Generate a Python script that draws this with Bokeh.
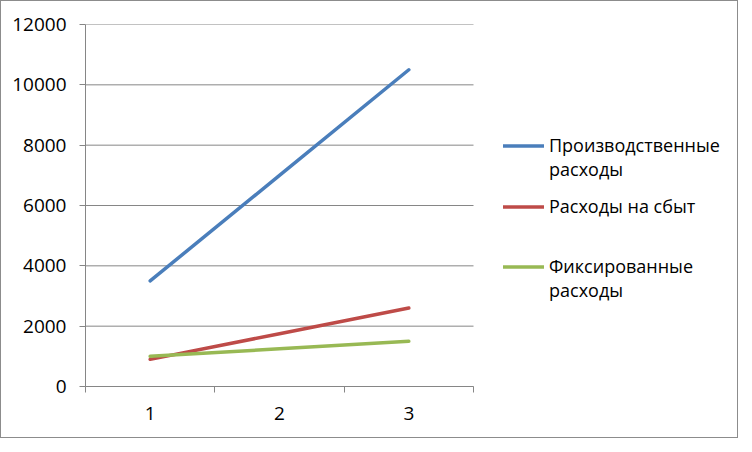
from bokeh.plotting import figure
from bokeh.models import Range1d, FixedTicker, Legend, LegendItem
from bokeh.embed import file_html
from bokeh.resources import INLINE

categories = [1, 2, 3]
tick_labels = {1: "1", 2: "2", 3: "3"}
y_ticks = [0, 2000, 4000, 6000, 8000, 10000, 12000]
production = [3500, 7000, 10500]
sales = [900, 1750, 2600]
fixed = [1000, 1250, 1500]
series_lines = [["Производственные", "расходы"], ["Расходы на сбыт"], ["Фиксированные", "расходы"]]
colors = ["#4A7EBB", "#BE4B48", "#98B954"]

FONT = "Open Sans"
GREY = "#868686"
X0, X1 = 0.5, 3.5
PLOT_W = 388            # pixels between X0 and X1
FRAME_W = 650
px_per_unit = PLOT_W / (X1 - X0)

p = figure(frame_width=FRAME_W, frame_height=362, output_backend="svg", toolbar_location=None,
           x_range=Range1d(X0, X0 + FRAME_W / px_per_unit), y_range=Range1d(0, 12000),
           min_border_left=84, min_border_top=23, min_border_right=2, min_border_bottom=51)
p.styles = {"border": "1px solid #8c8c8c", "box-sizing": "border-box"}
p.outline_line_color = None
p.background_fill_color = "white"

# horizontal grid lines limited to the plot area
p.segment(x0=X0, x1=X1, y0=y_ticks, y1=y_ticks, line_color=GREY, line_width=1)

renderers = []
for vals, col in zip([production, sales, fixed], colors):
    r = p.line(categories, vals, line_color=col, line_width=3.5, line_cap="round")
    renderers.append(r)
blank = p.line(x=[], y=[], line_alpha=0)

p.xaxis.bounds = (X0, X1)
p.xaxis.ticker = FixedTicker(ticks=categories, minor_ticks=[0.5, 1.5, 2.5, 3.5])
p.xaxis.major_label_overrides = tick_labels
p.xaxis.major_tick_out = 0
p.xaxis.major_tick_in = 0
p.xaxis.minor_tick_out = 6
p.xaxis.minor_tick_in = 0
p.xaxis.minor_tick_line_color = GREY
p.xaxis.major_label_standoff = 14

p.yaxis.ticker = FixedTicker(ticks=y_ticks, minor_ticks=[])
p.yaxis.major_tick_out = 6
p.yaxis.major_tick_in = 0
p.yaxis.major_tick_line_color = GREY
p.yaxis.major_label_standoff = 13

for ax in (p.xaxis, p.yaxis):
    ax.axis_line_color = GREY
    ax.major_label_text_font = FONT
    ax.major_label_text_font_size = "19px"
    ax.major_label_text_color = "#000000"

p.xgrid.grid_line_color = None
p.ygrid.grid_line_color = None

legend_bottoms = [205, 168, 84]
for lines, r, yb in zip(series_lines, renderers, legend_bottoms):
    items = [LegendItem(label=lines[0], renderers=[r])]
    for extra in lines[1:]:
        items.append(LegendItem(label=extra, renderers=[blank]))
    lg = Legend(items=items, location=(418, yb),
                label_text_font=FONT, label_text_font_size="18px", label_text_color="#000000",
                border_line_color=None, background_fill_alpha=0,
                glyph_width=41, glyph_height=23, label_height=23, label_standoff=5,
                spacing=0, padding=0, margin=0)
    p.add_layout(lg)

open("out.html", "w").write(file_html(p, INLINE))
